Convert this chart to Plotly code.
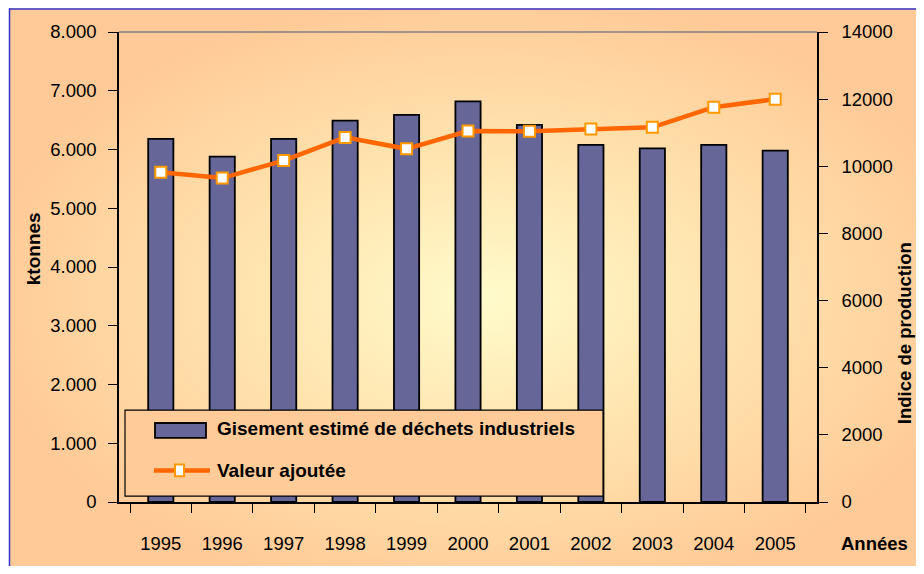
import base64
import plotly.graph_objects as go

# data
annees = ["1995", "1996", "1997", "1998", "1999", "2000",
          "2001", "2002", "2003", "2004", "2005"]
gisement = [6180, 5880, 6180, 6490, 6590, 6820, 6420, 6080, 6020, 6080, 5980]
valeur_ajoutee = [9820, 9650, 10170, 10860, 10520, 11050,
                  11040, 11110, 11160, 11760, 12000]

# the page body adds an 8px margin all round; keep the figure inside
# the window so no scrollbar eats into it
OFF = 8
W, H = 924 - 2 * OFF, 574 - 2 * OFF
L, T = 119 - OFF, 32 - OFF
R, B = W - (817 - OFF), H - (508 - OFF)
PW, PH = W - L - R, H - T - B
FONT = "Liberation Sans, Arial, sans-serif"


# positions below are given in screenshot pixels
def px(x):
    return (x - OFF - L) / PW


def py(y):
    return 1 - (y - OFF - T) / PH


# peach -> pale yellow background, as an svg radial gradient
svg = ('<svg xmlns="http://www.w3.org/2000/svg" width="915" height="566" '
       'viewBox="0 0 915 566" preserveAspectRatio="none">'
       '<defs><radialGradient id="g" cx="0.52" cy="0.52" r="0.55">'
       '<stop offset="0" stop-color="#FFFBCB"/>'
       '<stop offset="0.45" stop-color="#FFE5B0"/>'
       '<stop offset="1" stop-color="#FFCA97"/>'
       '</radialGradient></defs>'
       '<rect width="915" height="566" fill="url(#g)"/></svg>')
bg = "data:image/svg+xml;base64," + base64.b64encode(svg.encode()).decode()

fig = go.Figure()
fig.add_trace(go.Bar(
    x=annees, y=gisement, name="Gisement estimé de déchets industriels",
    marker=dict(color="#666699", line=dict(color="black", width=1.8)),
    width=0.41, showlegend=False))
fig.add_trace(go.Scatter(
    x=annees, y=valeur_ajoutee, yaxis="y2", name="Valeur ajoutée",
    mode="lines+markers", line=dict(color="#FF6600", width=4.5),
    marker=dict(symbol="square", size=11, color="white",
                line=dict(color="#FF9900", width=2)),
    showlegend=False))

fig.update_layout(
    width=W, height=H,
    margin=dict(l=L, r=R, t=T, b=B),
    paper_bgcolor="white", plot_bgcolor="rgba(0,0,0,0)",
    separators=",.",
    font=dict(family=FONT, size=18.5, color="black"),
    xaxis=dict(type="category", tickson="boundaries", ticks="outside",
               ticklen=9, tickcolor="black", showline=True,
               linecolor="black", linewidth=1.5, showgrid=False,
               ticklabelstandoff=24),
    yaxis=dict(range=[0, 8000], dtick=1000, tickformat=",.0f",
               ticks="outside", ticklen=9, tickcolor="black",
               showline=True, linecolor="black", linewidth=1.5,
               showgrid=False, zeroline=False, ticklabelstandoff=8),
    yaxis2=dict(range=[0, 14000], dtick=2000, tickformat="d",
                overlaying="y", side="right", anchor="x",
                ticks="outside", ticklen=9, tickcolor="black",
                showline=True, linecolor="black", linewidth=1.5,
                showgrid=False, zeroline=False, ticklabelstandoff=10),
    # inner halves of the crossing tick marks
    yaxis3=dict(range=[0, 8000], dtick=1000, overlaying="y", side="left",
                anchor="x", ticks="inside", ticklen=8, tickcolor="black",
                showticklabels=False, showgrid=False, zeroline=False),
    yaxis4=dict(range=[0, 14000], dtick=2000, overlaying="y", side="right",
                anchor="x", ticks="inside", ticklen=8, tickcolor="black",
                showticklabels=False, showgrid=False, zeroline=False),
    images=[dict(source=bg, xref="paper", yref="paper",
                 x=px(9), y=py(8), sizex=px(924) - px(9),
                 sizey=py(8) - py(574),
                 xanchor="left", yanchor="top", sizing="stretch",
                 layer="below")],
)

shapes = [
    # outer blue frame (top and left)
    dict(type="line", xref="paper", yref="paper", x0=px(9), x1=px(924),
         y0=py(8.8), y1=py(8.8), line=dict(color="#3333CC", width=1.5)),
    dict(type="line", xref="paper", yref="paper", x0=px(9.5), x1=px(9.5),
         y0=py(8), y1=py(574), line=dict(color="#3333CC", width=1.5)),
    # grey top border of the plot area
    dict(type="line", xref="paper", yref="paper", x0=0, x1=1, y0=1, y1=1,
         line=dict(color="#808080", width=1.5)),
    # legend box
    dict(type="rect", xref="paper", yref="paper", x0=px(125), x1=px(603),
         y0=py(502), y1=py(415), fillcolor="#FFCC99",
         line=dict(color="black", width=1.2), layer="above"),
    dict(type="rect", xref="paper", yref="paper", x0=px(155), x1=px(206),
         y0=py(443), y1=py(428), fillcolor="#666699",
         line=dict(color="black", width=1.8), layer="above"),
    dict(type="line", xref="paper", yref="paper", x0=px(154), x1=px(210),
         y0=py(476), y1=py(476), line=dict(color="#FF6600", width=4.5),
         layer="above"),
    dict(type="rect", xref="paper", yref="paper", x0=px(175), x1=px(184),
         y0=py(482), y1=py(470), fillcolor="white",
         line=dict(color="#FF9900", width=2), layer="above"),
]
fig.update_layout(shapes=shapes)

annots = [
    dict(text="<b>Gisement estimé de déchets industriels</b>", x=px(215),
         y=py(434), xanchor="left", size=19),
    dict(text="<b>Valeur ajoutée</b>", x=px(215), y=py(476), xanchor="left",
         size=19),
    dict(text="<b>ktonnes</b>", x=px(33), y=py(252), textangle=-90,
         xanchor="center", size=19),
    dict(text="<b>Indice de production</b>", x=px(904), y=py(337),
         textangle=-90, xanchor="center", size=18.5),
    dict(text="<b>Années</b>", x=px(874), y=py(550), xanchor="center",
         size=18.5),
]
for a in annots:
    size = a.pop("size")
    fig.add_annotation(xref="paper", yref="paper", showarrow=False,
                       yanchor="middle",
                       font=dict(family=FONT, size=size, color="black"), **a)

fig.write_html("out.html")
